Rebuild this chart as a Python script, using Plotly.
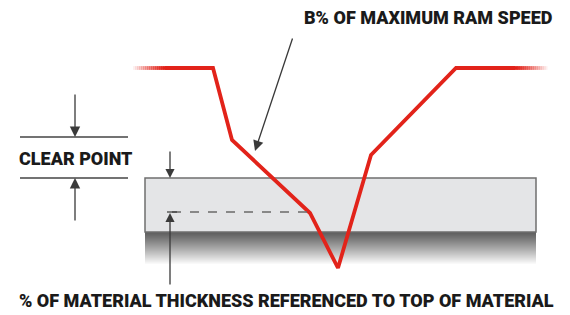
import plotly.graph_objects as go

# --- diagram data (pixel-like units: x right, y down) ---
ram_x = [165, 213, 232, 310, 338, 371, 456, 515]
ram_y = [68, 68, 140, 213, 268, 155, 68, 68]
fade_left_x = [133, 165]
fade_right_x = [515, 547]
fade_y = 68

material_x = [145, 536]
material_y = [178, 232]
shadow_bottom = 264
depth_y = 212
depth_x = [172, 308]

clear_lines_x = [20, 128]
clear_lines_y = [137, 178]
clear_arrow_x = 75

labels = {
    "top": "B% OF MAXIMUM RAM SPEED",
    "clear": "CLEAR POINT",
    "bottom": "% OF MATERIAL THICKNESS REFERENCED TO TOP OF MATERIAL",
}

RED = "#e2231a"
DARK = "#3a3a3a"
FONT = "Roboto, Liberation Sans Narrow, sans-serif"

fig = go.Figure()
shapes = []

# shadow under material
n = 32
for i in range(n):
    t = i / n
    y0 = material_y[1] + (shadow_bottom - material_y[1]) * i / n
    y1 = material_y[1] + (shadow_bottom - material_y[1]) * (i + 1) / n
    v = int(95 + (255 - 95) * (t ** 1.1))
    shapes.append(dict(type="rect", x0=material_x[0], x1=material_x[1], y0=y0, y1=y1,
                       fillcolor=f"rgb({v},{v},{v})", line=dict(width=0), layer="below"))

# material block
shapes.append(dict(type="rect", x0=material_x[0], x1=material_x[1], y0=material_y[0], y1=material_y[1],
                   fillcolor="#e4e5e7", line=dict(color="#6f6f6f", width=1.5), layer="below"))

# dashed depth line
shapes.append(dict(type="line", x0=depth_x[0], x1=depth_x[1], y0=depth_y, y1=depth_y,
                   line=dict(color="#6a6a6a", width=1.5, dash="dash")))
shapes.append(dict(type="line", x0=depth_x[0] - 5, x1=depth_x[0] + 5, y0=depth_y, y1=depth_y,
                   line=dict(color=DARK, width=1.2)))

# clear point lines
for yy in clear_lines_y:
    shapes.append(dict(type="line", x0=clear_lines_x[0], x1=clear_lines_x[1], y0=yy, y1=yy,
                       line=dict(color="#444", width=1.5)))

fig.update_layout(shapes=shapes)

# faded ends of ram line
steps = 16
for seg, rev in ((fade_left_x, False), (fade_right_x, True)):
    for i in range(steps):
        a = (i + 1) / steps
        if rev:
            a = 1 - i / steps
        x0 = seg[0] + (seg[1] - seg[0]) * i / steps
        x1 = seg[0] + (seg[1] - seg[0]) * (i + 1) / steps
        fig.add_trace(go.Scatter(x=[x0, x1 + 0.5], y=[fade_y, fade_y], mode="lines",
                                 line=dict(color=RED, width=3.8), opacity=max(a, 0.05),
                                 hoverinfo="skip", showlegend=False))

# ram speed line
fig.add_trace(go.Scatter(x=ram_x, y=ram_y, mode="lines",
                         line=dict(color=RED, width=3.8), hoverinfo="skip", showlegend=False))

def arrow(x_tail, y_tail, x_head, y_head, size=1.0):
    fig.add_annotation(x=x_head, y=y_head, ax=x_tail, ay=y_tail, xref="x", yref="y",
                       axref="x", ayref="y", showarrow=True, arrowhead=2, arrowsize=size,
                       arrowwidth=1.3, arrowcolor=DARK, text="")

# big arrow to the line
arrow(293, 37, 255, 151, 1.6)
# clear point arrows
arrow(clear_arrow_x, 93, clear_arrow_x, clear_lines_y[0], 1.6)
arrow(clear_arrow_x, 222, clear_arrow_x, clear_lines_y[1], 1.6)
# material top arrow
arrow(depth_x[0] - 2, 150, depth_x[0] - 2, material_y[0], 1.4)
# depth arrow
arrow(depth_x[0] - 2, 286, depth_x[0] - 2, depth_y + 1, 1.4)

def label(text, x, y, size, anchor="center"):
    fig.add_annotation(x=x, y=y, xref="x", yref="y", text=text, showarrow=False,
                       xanchor=anchor, yanchor="middle",
                       font=dict(family=FONT, size=size, color="#1a1a1a", weight=900))

label(labels["top"], 428, 17, 18)
label(labels["clear"], 76, 158, 18)
label(labels["bottom"], 286, 300, 18)

fig.update_xaxes(range=[0, 570], visible=False, fixedrange=True)
fig.update_yaxes(range=[315, 0], visible=False, fixedrange=True)
fig.update_layout(width=570, height=315, margin=dict(l=0, r=0, t=0, b=0),
                  plot_bgcolor="white", paper_bgcolor="white", showlegend=False)

fig.write_html("out.html", config={"displayModeBar": False},
               post_script="document.body.style.margin='0';document.body.style.overflow='hidden';")
